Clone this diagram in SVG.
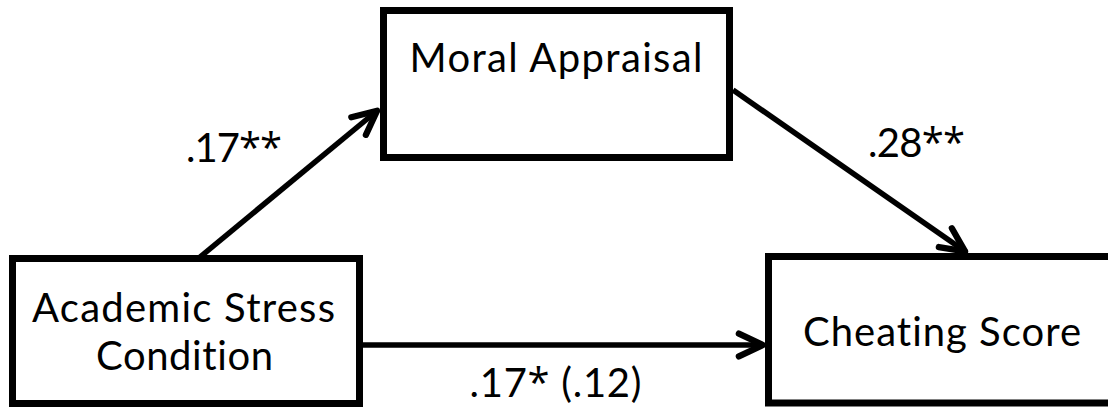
<svg xmlns="http://www.w3.org/2000/svg" width="1108" height="408" viewBox="0 0 1108 408">
  <style>
    .box { fill: #ffffff; stroke: #000000; stroke-width: 7; }
    .lbl { font-family: Lato, "Open Sans", "Liberation Sans", sans-serif; font-size: 40px; fill: #000000; text-anchor: middle; font-variant-ligatures: none; }
    .ast { font-family: "Open Sans", "Liberation Sans", sans-serif; }
    .edge { fill: none; stroke: #000000; stroke-width: 5.5; }
  </style>
  <defs>
    <marker id="arrow" markerUnits="userSpaceOnUse" markerWidth="40" markerHeight="40" viewBox="-30 -15 35 30" refX="0" refY="0" orient="auto">
      <path d="M -22 -10 L -1 0 L -22 10" fill="none" stroke="#000000" stroke-width="5.5" stroke-linecap="round" stroke-linejoin="round"/>
    </marker>
  </defs>
  <rect width="1108" height="408" fill="#ffffff"/>
  <g id="connectors">
    <line class="edge" x1="200" y1="257" x2="378" y2="110" marker-end="url(#arrow)"/>
    <line class="edge" x1="733" y1="90" x2="966" y2="252" marker-end="url(#arrow)"/>
    <line class="edge" x1="362" y1="345" x2="764" y2="345" marker-end="url(#arrow)"/>
    <text class="lbl" x="234" y="162" textLength="96">.17<tspan class="ast">**</tspan></text>
    <text class="lbl" x="916.5" y="157" textLength="97">.28<tspan class="ast">**</tspan></text>
    <text class="lbl" x="555.5" y="397" textLength="172">.17<tspan class="ast">*</tspan> (.12)</text>
  </g>
  <g id="node-moral">
    <rect class="box" x="383.5" y="10.5" width="346" height="147"/>
    <text class="lbl" x="556" y="72" textLength="293">Moral Appraisal</text>
  </g>
  <g id="node-stress">
    <rect class="box" x="12.5" y="258.5" width="347" height="145"/>
    <text class="lbl" x="183.5" y="322" textLength="303">Academic Stress</text>
    <text class="lbl" x="184.5" y="370" textLength="177">Condition</text>
  </g>
  <g id="node-cheating">
    <rect class="box" x="768.5" y="256.5" width="345" height="146.5"/>
    <text class="lbl" x="942" y="346" textLength="278">Cheating Score</text>
  </g>
</svg>
